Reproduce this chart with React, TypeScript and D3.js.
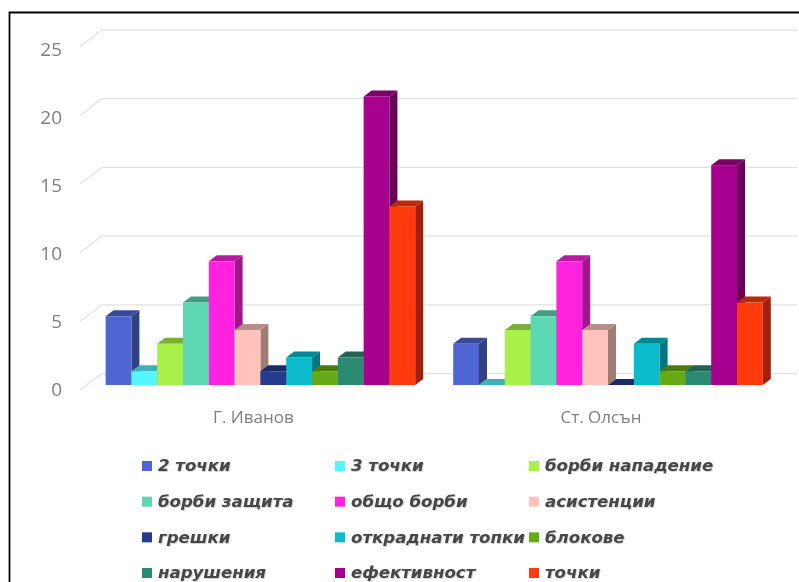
import { useRef, useEffect } from 'react';
import * as d3 from 'd3';

const WIDTH = 799;
const HEIGHT = 582;

const categories = ['Г. Иванов', 'Ст. Олсън'];
const seriesNames = [
  '2 точки', '3 точки', 'борби нападение',
  'борби защита', 'общо борби', 'асистенции',
  'грешки', 'откраднати топки', 'блокове',
  'нарушения', 'ефективност', 'точки',
];
const ivanovValues = [5, 1, 3, 6, 9, 4, 1, 2, 1, 2, 21, 13];
const olsanValues = [3, 0, 4, 5, 9, 4, 0, 3, 1, 1, 16, 6];
const seriesColors = [
  '#4f66d2', '#55f6ff', '#a9f04c', '#5dd8b2', '#ff22de', '#ffc3bb',
  '#273a8c', '#08bccc', '#66aa12', '#2c8a72', '#a8008e', '#ff3a10',
];
const yTicks = [0, 5, 10, 15, 20, 25];

const App = () => {
  const svgRef = useRef<SVGSVGElement>(null);

  useEffect(() => {
    const svg = d3.select(svgRef.current);
    svg.selectAll('*').remove();

    const defs = svg.append('defs');
    defs.append('filter').attr('id', 'soft')
      .attr('x', '-2%').attr('y', '-2%').attr('width', '104%').attr('height', '104%')
      .append('feGaussianBlur').attr('stdDeviation', 0.6);
    const shadow = defs.append('filter').attr('id', 'legendShadow')
      .attr('x', '-5%').attr('y', '-20%').attr('width', '110%').attr('height', '150%');
    shadow.append('feDropShadow')
      .attr('dx', 0.8).attr('dy', 0.8).attr('stdDeviation', 0.7)
      .attr('flood-color', '#000').attr('flood-opacity', 0.22);

    const root = svg.append('g').attr('filter', 'url(#soft)');

    // frame runs off the page on the right and at the bottom
    root.append('path')
      .attr('d', `M9.5,${HEIGHT + 5}V12.5H${WIDTH + 5}`)
      .attr('fill', 'none')
      .attr('stroke', '#000')
      .attr('stroke-width', 1.8);

    // y scale is on the back wall, the walls and bars are offset from it
    const y = d3.scaleLinear().domain([0, 25]).range([373.5, 30]);
    const yLabel = d3.scaleLinear().domain([0, 25]).range([389, 49]);
    const backLeft = 102;
    const backRight = 797;
    const wallDx = 22;
    const wallDy = 16.5;
    const barFrontDy = 11.5;
    const barDx = 8;
    const barDy = 6;

    const grid = root.append('g');
    yTicks.forEach((t) => {
      grid.append('path')
        .attr('d', `M${backLeft - wallDx},${y(t) + wallDy}L${backLeft},${y(t)}H${backRight}`)
        .attr('fill', 'none')
        .attr('stroke', '#e2e2e2')
        .attr('stroke-width', 1.3);
      root.append('text')
        .attr('x', 62)
        .attr('y', yLabel(t))
        .attr('dy', '0.36em')
        .attr('text-anchor', 'end')
        .attr('font-family', '"Open Sans", sans-serif')
        .attr('font-size', 19)
        .attr('fill', '#7f7f7f')
        .text(t);
    });

    const x0 = d3.scaleBand<string>().domain(categories).range([86.6, 781.8]);
    const x1 = d3.scaleBand<string>().domain(seriesNames).range([19, x0.bandwidth() - 19]);
    const rows = [ivanovValues, olsanValues];

    categories.forEach((cat, ci) => {
      const g = root.append('g').attr('transform', `translate(${x0(cat)},0)`);
      seriesNames.forEach((name, si) => {
        const v = rows[ci][si];
        const base = d3.color(seriesColors[si])!;
        const bx = x1(name)!;
        const bw = x1.bandwidth();
        const top = y(v) + barFrontDy;
        const bottom = y(0) + barFrontDy;

        // side face
        g.append('path')
          .attr('d', `M${bx + bw},${top}l${barDx},${-barDy}V${bottom - barDy}l${-barDx},${barDy}Z`)
          .attr('fill', base.darker(1.3).formatHex());
        // top face
        g.append('path')
          .attr('d', `M${bx},${top}l${barDx},${-barDy}h${bw}l${-barDx},${barDy}Z`)
          .attr('fill', base.darker(0.9).formatHex());
        // front face
        g.append('rect')
          .attr('x', bx)
          .attr('y', top)
          .attr('width', bw)
          .attr('height', bottom - top)
          .attr('fill', seriesColors[si]);
      });

      // labels sit a bit left of the band centre, on the wall's front edge
      root.append('text')
        .attr('x', x0(cat)! + x0.bandwidth() / 2 - 7)
        .attr('y', 417)
        .attr('dy', '0.36em')
        .attr('text-anchor', 'middle')
        .attr('font-family', '"Open Sans", sans-serif')
        .attr('font-size', 17)
        .attr('fill', '#7f7f7f')
        .text(cat);
    });

    // legend, three columns
    const legendCol = d3.scaleOrdinal<number, number>().domain([0, 1, 2]).range([142, 335, 529]);
    const legendRow = d3.scalePoint<number>().domain([0, 1, 2, 3]).range([466, 573]);
    const legend = root.append('g');
    seriesNames.forEach((name, i) => {
      const lx = legendCol(i % 3);
      const ly = legendRow(Math.floor(i / 3))!;
      legend.append('rect')
        .attr('x', lx)
        .attr('y', ly - 5)
        .attr('width', 10)
        .attr('height', 10)
        .attr('fill', seriesColors[i]);
      legend.append('text')
        .attr('x', lx + 16)
        .attr('y', ly)
        .attr('dy', '0.32em')
        .attr('font-family', '"DejaVu Sans", sans-serif')
        .attr('font-size', 16.6)
        .attr('font-weight', 'bold')
        .attr('font-style', 'italic')
        .attr('fill', '#474747')
        .attr('filter', 'url(#legendShadow)')
        .text(name);
    });
  }, []);

  return (
    <svg
      ref={svgRef}
      width={WIDTH}
      height={HEIGHT}
      style={{ position: 'absolute', left: 0, top: 0, display: 'block', background: '#fff' }}
    />
  );
};

export default App;
